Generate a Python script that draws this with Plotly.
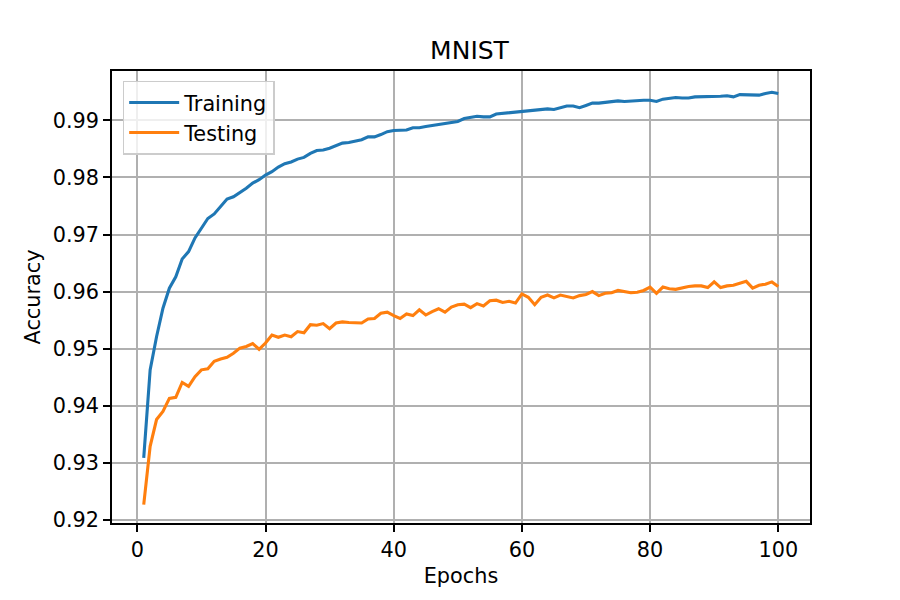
import plotly.graph_objects as go

epochs = list(range(1, 101))

training_acc = [
    0.9309, 0.9463, 0.9521, 0.9571, 0.9606, 0.9626, 0.9657, 0.9670, 0.9694, 0.9711,
    0.9728, 0.9736, 0.9749, 0.9762, 0.9766, 0.9773, 0.9781, 0.9790, 0.9796, 0.9804,
    0.9810, 0.9818, 0.9824, 0.9827, 0.9832, 0.9835, 0.9842, 0.9847, 0.9848, 0.9851,
    0.9855, 0.9860, 0.9861, 0.9863, 0.9866, 0.9871, 0.9871, 0.9875, 0.9880, 0.9882,
    0.9882, 0.9883, 0.9887, 0.9887, 0.9889, 0.9891, 0.9892, 0.9894, 0.9896, 0.9898,
    0.9903, 0.9905, 0.9907, 0.9906, 0.9906, 0.9911, 0.9912, 0.9913, 0.9914, 0.9916,
    0.9916, 0.9918, 0.9919, 0.9920, 0.9919, 0.9922, 0.9925, 0.9925, 0.9922, 0.9926,
    0.9930, 0.9930, 0.9931, 0.9933, 0.9934, 0.9933, 0.9934, 0.9935, 0.9935, 0.9935,
    0.9933, 0.9937, 0.9938, 0.9940, 0.9939, 0.9939, 0.9941, 0.9941, 0.9941, 0.9941,
    0.9942, 0.9943, 0.9941, 0.9945, 0.9945, 0.9945, 0.9944, 0.9947, 0.9949, 0.9947,
]

testing_acc = [
    0.9227, 0.9329, 0.9376, 0.9390, 0.9413, 0.9415, 0.9441, 0.9434, 0.9451, 0.9463,
    0.9465, 0.9478, 0.9482, 0.9485, 0.9492, 0.9501, 0.9504, 0.9509, 0.9499, 0.9510,
    0.9524, 0.9520, 0.9524, 0.9521, 0.9530, 0.9528, 0.9542, 0.9541, 0.9544, 0.9535,
    0.9545, 0.9547, 0.9546, 0.9545, 0.9545, 0.9552, 0.9553, 0.9562, 0.9564, 0.9558,
    0.9553, 0.9561, 0.9558, 0.9568, 0.9559, 0.9565, 0.9570, 0.9564, 0.9573, 0.9577,
    0.9578, 0.9572, 0.9579, 0.9575, 0.9584, 0.9585, 0.9581, 0.9583, 0.9580, 0.9596,
    0.9590, 0.9577, 0.9590, 0.9594, 0.9589, 0.9594, 0.9591, 0.9589, 0.9593, 0.9595,
    0.9600, 0.9593, 0.9597, 0.9598, 0.9602, 0.9600, 0.9598, 0.9599, 0.9602, 0.9608,
    0.9597, 0.9608, 0.9605, 0.9604, 0.9607, 0.9609, 0.9610, 0.9610, 0.9607, 0.9617,
    0.9607, 0.9610, 0.9611, 0.9614, 0.9618, 0.9606, 0.9611, 0.9613, 0.9617, 0.9609,
]

x_ticks = [0, 20, 40, 60, 80, 100]
y_ticks = [0.92, 0.93, 0.94, 0.95, 0.96, 0.97, 0.98, 0.99]
y_tick_labels = ["0.92", "0.93", "0.94", "0.95", "0.96", "0.97", "0.98", "0.99"]

FONT = "DejaVu Sans"
fs = 20.8

fig = go.Figure()
fig.add_trace(go.Scatter(x=epochs, y=training_acc, mode="lines", name="Training",
                         line=dict(color="#1f77b4", width=3.1)))
fig.add_trace(go.Scatter(x=epochs, y=testing_acc, mode="lines", name="Testing",
                         line=dict(color="#ff7f0e", width=3.1)))

axis_common = dict(
    showline=True, linecolor="black", linewidth=1.7, mirror=True,
    ticks="outside", ticklen=7, tickwidth=1.7, tickcolor="black",
    showgrid=True, gridcolor="#b0b0b0", gridwidth=1.6,
    zeroline=False,
    tickfont=dict(family=FONT, size=fs, color="black"),
)

fig.update_layout(
    width=900, height=600,
    margin=dict(l=112, r=90, t=71, b=76.5),
    paper_bgcolor="white", plot_bgcolor="white",
    font=dict(family=FONT, size=fs, color="black"),
    title=dict(text="MNIST", x=0.5122, xanchor="center", y=0.917, yanchor="middle",
               xref="paper", font=dict(family=FONT, size=25, color="black")),
    xaxis=dict(range=[-3.95, 104.95], tickvals=x_ticks,
               title=dict(text="Epochs", font=dict(family=FONT, size=fs), standoff=8),
               **axis_common),
    yaxis=dict(range=[0.91948, 0.99863], tickvals=y_ticks, ticktext=y_tick_labels,
               title=dict(text="Accuracy", font=dict(family=FONT, size=fs), standoff=6),
               **axis_common),
    legend=dict(x=0.0153, y=0.978, xanchor="left", yanchor="top", itemwidth=50,
                bgcolor="rgba(255,255,255,0.8)", bordercolor="#cccccc", borderwidth=1.5,
                font=dict(family=FONT, size=fs, color="black")),
    showlegend=True,
)

fig.write_html("out.html")
